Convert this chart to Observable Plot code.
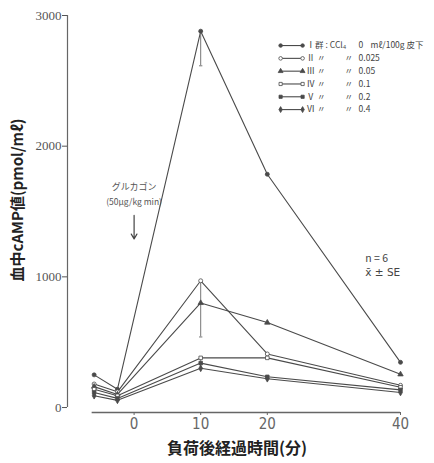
<!DOCTYPE html>
<html><head><meta charset="utf-8">
<script src="https://cdn.jsdelivr.net/npm/d3@7"></script>
<script src="https://cdn.jsdelivr.net/npm/@observablehq/plot@0.6"></script>
<style>body{margin:0;background:#fff}</style>
</head><body><div id="chart"></div>
<script>
// ---- data ----
const times = [-6, -2.5, 10, 20, 40];
const groups = ["Ⅰ", "Ⅱ", "Ⅲ", "Ⅳ", "Ⅴ", "Ⅵ"];
const doses = ["0", "0.025", "0.05", "0.1", "0.2", "0.4"];
const valuesI   = [250, 140, 2880, 1785, 346];
const valuesII  = [180, 120, 970, 410, 170];
const valuesIII = [160, 100, 800, 650, 254];
const valuesIV  = [140, 90, 380, 380, 155];
const valuesV   = [115, 70, 340, 235, 135];
const valuesVI  = [90, 55, 300, 220, 115];
const seriesValues = [valuesI, valuesII, valuesIII, valuesIV, valuesV, valuesVI];
const errGroups = ["Ⅰ", "Ⅱ", "Ⅳ"];
const errTimes = [10, 10, 10];
const errMeans = [2880, 970, 380];
const errLows = [2615, 540, 300];
const yTicks = [0, 1000, 2000, 3000];
const xTicks = [0, 10, 20, 40];

// ---- styles ----
const ink = "#4a4a4a";
const symbols = ["circle", "circle", "triangle", "square", "square", "diamond"];
const fills = [ink, "white", ink, "white", ink, ink];
const jp = "'Noto Sans CJK JP', sans-serif";

const rows = groups.flatMap((g, i) => times.map((t, j) => ({g, i, t, v: seriesValues[i][j]})));
const errs = errGroups.map((g, k) => ({g, t: errTimes[k], v: errMeans[k], lo: errLows[k]}));

// legend placed in data units (top-right of frame)
const legX1 = 22, legX2 = 25.3, legTop = 2770, legStep = 98;
const legRows = groups.map((g, i) => ({g, i, dose: doses[i], y: legTop - i * legStep}));

const plot = Plot.plot({
  width: 434, height: 463,
  marginLeft: 67, marginRight: 34, marginTop: 15, marginBottom: 51,
  x: {domain: [-10, 40], axis: null},
  y: {domain: [-38, 3000], axis: null},
  style: {background: "white"},
  marks: [
    // axes
    Plot.ruleX([-10], {y1: 0, y2: 3000, stroke: "#666", strokeWidth: 1.2}),
    Plot.axisY(yTicks, {anchor: "left", tickSize: 5, tickPadding: 1, fontSize: 13,
      tickFormat: d => String(d),
      fontFamily: "'Liberation Serif', serif", color: "#555", label: null}),
    Plot.ruleY([-38], {x1: -6.3, x2: 40, stroke: "#666", strokeWidth: 1.5}),
    Plot.axisX(xTicks, {anchor: "bottom", tickSize: 3, tickPadding: 3, fontSize: 15,
      tickFormat: d => String(d),
      fontFamily: "'DejaVu Sans Condensed', 'Liberation Sans', sans-serif", color: "#666", label: null}),
    // axis titles
    Plot.text(["負荷後経過時間(分)"], {frameAnchor: "bottom", lineAnchor: "middle", textAnchor: "middle",
      dy: 36, dx: 3, fontSize: 16, fontFamily: jp, fontWeight: "bold", fill: "#222"}),
    Plot.text(["血中cAMP値(pmol/mℓ)"], {frameAnchor: "left", lineAnchor: "middle", textAnchor: "middle",
      rotate: -90, dx: -49, dy: -14, fontSize: 15, fontFamily: jp, fontWeight: "bold", fill: "#222"}),
    // series
    ...groups.map((g, i) => Plot.line(rows.filter(d => d.g === g), {x: "t", y: "v", stroke: ink, strokeWidth: 1.1})),
    Plot.ruleX(errs, {x: "t", y1: "v", y2: "lo", stroke: "#777", strokeWidth: 1}),
    Plot.link(errs, {x1: d => d.t - 0.25, x2: d => d.t + 0.25, y1: "lo", y2: "lo", stroke: "#777"}),
    ...groups.map((g, i) => Plot.dot(rows.filter(d => d.g === g), {x: "t", y: "v",
      symbol: symbols[i], fill: fills[i], stroke: ink, strokeWidth: 0.8, r: 2})),
    // annotations
    Plot.text(["グルカゴン"], {x: 0, y: 1690, fontSize: 9, fontFamily: jp, fill: "#555"}),
    Plot.text(["(50μg/kg min)"], {x: 0, y: 1570, fontSize: 8.5, fontFamily: jp, fill: "#555"}),
    Plot.arrow([{t: 0, a: 1470, b: 1290}], {x1: "t", x2: "t", y1: "a", y2: "b", stroke: "#444",
      strokeWidth: 1.2, headLength: 7}),
    Plot.text(["n = 6"], {x: 34.7, y: 1140, textAnchor: "start", fontSize: 10.5, fontFamily: jp, fill: "#444"}),
    Plot.text(["x̄ ± SE"], {x: 34.7, y: 1030, textAnchor: "start", fontSize: 10.5,
      fontFamily: "'DejaVu Sans', sans-serif", fill: "#444"}),
    // legend
    Plot.link(legRows, {x1: legX1, x2: legX2, y1: "y", y2: "y", stroke: ink, strokeWidth: 1.1}),
    ...groups.map((g, i) => Plot.dot(legRows.filter(d => d.i === i), {x: legX1, y: "y",
      symbol: symbols[i], fill: fills[i], stroke: ink, strokeWidth: 0.8, r: 1.8})),
    ...groups.map((g, i) => Plot.dot(legRows.filter(d => d.i === i), {x: legX2, y: "y",
      symbol: symbols[i], fill: fills[i], stroke: ink, strokeWidth: 0.8, r: 1.8})),
    Plot.text(legRows, {x: legX2, y: "y", text: d => d.i === 0 ? "Ⅰ群 : CCl₄" : d.g + " 〃",
      dx: 4, textAnchor: "start", fontSize: 8.5, fontFamily: jp, fill: "#444"}),
    Plot.text(legRows.filter(d => d.i > 0), {x: legX2, y: "y", text: () => "〃",
      dx: 42, textAnchor: "start", fontSize: 8.5, fontFamily: jp, fill: "#444"}),
    Plot.text(legRows, {x: legX2, y: "y", text: "dose",
      dx: 56, textAnchor: "start", fontSize: 8.5, fontFamily: jp, fill: "#444"}),
    Plot.text(legRows.filter(d => d.i === 0), {x: legX2, y: "y", text: () => "mℓ/100g 皮下",
      dx: 68, textAnchor: "start", fontSize: 8.5, fontFamily: jp, fill: "#444"})
  ]
});
document.getElementById("chart").append(plot);
</script>
</body></html>
